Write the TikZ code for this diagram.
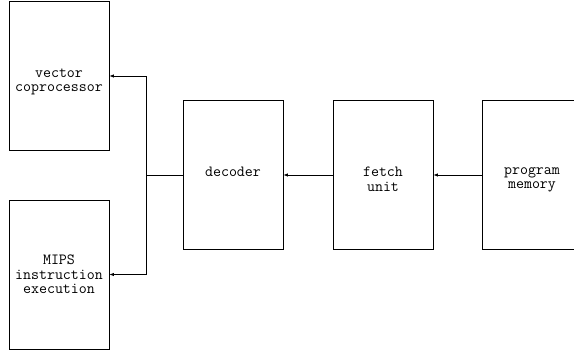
\documentclass[tikz,border=0pt]{standalone}
\usepackage{fontspec}
\usetikzlibrary{arrows.meta}
\begin{document}
\begin{tikzpicture}[x=1pt,y=1pt,
  blk/.style={draw, line width=0.8pt, minimum width=100pt, minimum height=149pt, inner sep=0pt},
  txt/.style={align=center, inner sep=0pt, font=\ttfamily\fontsize{15.5}{14.5}\selectfont},
  arr/.style={line width=0.8pt, -{Latex[length=4.5pt,width=3.5pt]}},
  ln/.style={line width=0.8pt}]
\useasboundingbox (0,0) rectangle (574,-353);
\node[blk] (vec) at (59,-76) {};
\node[blk] (mips) at (59,-274.5) {};
\node[blk] (dec) at (233,-175) {};
\node[blk] (fetch) at (383,-175) {};
\node[blk] (pm) at (532,-175) {};
\node[txt] (tvec) at ([yshift=-6pt]vec.center) {vector\\coprocessor};
\node[txt] (tmips) at ([yshift=0pt]mips.center) {MIPS\\instruction\\execution};
\node[txt] (tdec) at ([yshift=3pt]dec.center) {decoder};
\node[txt] (tfetch) at ([yshift=-4.5pt]fetch.center) {fetch\\unit};
\node[txt] (tpm) at ([yshift=-5pt]pm.center) {program\\memory};
\coordinate (j) at (146,-175);
\draw[arr] (pm.west) -- (fetch.east);
\draw[arr] (fetch.west) -- (dec.east);
\draw[ln] (dec.west) -- (j);
\draw[arr] (j) |- (vec.east);
\draw[arr] (j) |- (mips.east);
\end{tikzpicture}
\end{document}
